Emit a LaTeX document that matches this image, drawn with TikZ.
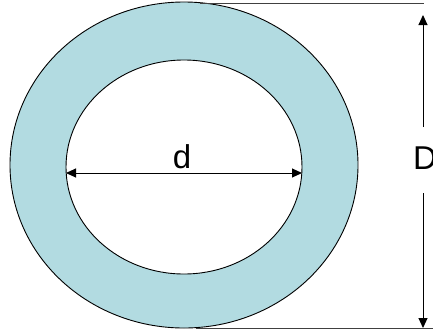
\documentclass[tikz,border=0pt]{standalone}
\usepackage{fontspec}
\setmainfont{Liberation Sans}
\usetikzlibrary{arrows.meta}
\definecolor{ringblue}{RGB}{178,219,225}

\begin{document}
\begin{tikzpicture}[x=1pt, y=-1pt,
  dimline/.style={line width=1pt, -{Triangle[length=10pt,width=9pt]}},
  label/.style={font=\fontsize{33}{33}\selectfont, inner sep=0pt}]
  \useasboundingbox (0,0) rectangle (433,333);
  \clip (0,0) rectangle (433,333);
  % ring
  \fill[ringblue, even odd rule] (184,165) ellipse [x radius=174, y radius=163]
                                 (184,167) ellipse [x radius=118, y radius=107];
  \draw[line width=0.9pt] (184,165) ellipse [x radius=174, y radius=163];
  \draw[line width=0.9pt] (184,167) ellipse [x radius=118, y radius=107];
  % extension lines
  \draw[line width=0.9pt, black!75] (200,3) -- (424,3);
  \draw[line width=0.9pt, black!75] (196,328) -- (433,328);
  % inner diameter
  \coordinate (dl) at (66,173);
  \coordinate (dr) at (302,173);
  \draw[line width=1pt, {Triangle[length=10pt,width=9pt]}-{Triangle[length=10pt,width=9pt]}] (dl) -- (dr);
  \node[label] (dlab) at (182,157) {d};
  % outer diameter
  \coordinate (Dt) at (423,15);
  \coordinate (Db) at (423,328);
  \coordinate (Dmt) at (423,127);
  \coordinate (Dmb) at (423,193);
  \draw[dimline] (Dmt) -- (Dt);
  \draw[dimline] (Dmb) -- (Db);
  \node[label, anchor=west] (Dlab) at (413,158) {D};
\end{tikzpicture}
\end{document}
